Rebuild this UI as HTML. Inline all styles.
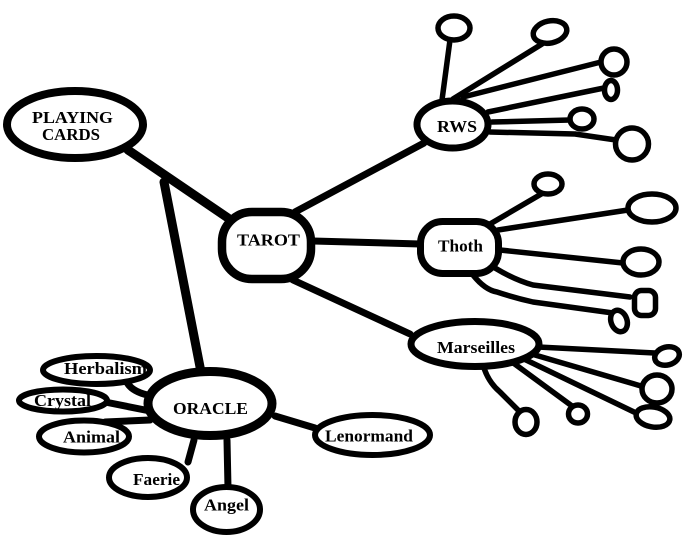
<!DOCTYPE html>
<html>
<head>
<meta charset="utf-8">
<style>
html,body{margin:0;padding:0;background:#fff;}
svg{display:block;}
text{font-family:"Liberation Serif",serif;font-weight:bold;font-size:17px;fill:#000;text-anchor:middle;}
</style>
</head>
<body>
<svg width="691" height="536" viewBox="0 0 691 536" xmlns="http://www.w3.org/2000/svg">
<g fill="none" stroke="#000" stroke-linecap="round" stroke-linejoin="round">
  <!-- main connectors -->
  <line x1="128" y1="150" x2="228" y2="218" stroke-width="9"/>
  <line x1="164" y1="182" x2="201" y2="372" stroke-width="9"/>
  <line x1="295" y1="212" x2="424" y2="143" stroke-width="7"/>
  <line x1="313" y1="241" x2="420" y2="244" stroke-width="7"/>
  <line x1="293" y1="280" x2="410" y2="334" stroke-width="7"/>

  <!-- oracle connectors -->
  <path d="M126 380 Q130 392 152 396" stroke-width="7"/>
  <line x1="100" y1="401" x2="150" y2="411" stroke-width="7"/>
  <line x1="105" y1="422" x2="150" y2="420" stroke-width="7"/>
  <line x1="194" y1="440" x2="188" y2="462" stroke-width="7"/>
  <line x1="227" y1="440" x2="228" y2="488" stroke-width="7"/>
  <line x1="275" y1="416" x2="315" y2="428" stroke-width="7"/>

  <!-- RWS spokes -->
  <g stroke-width="5.5">
    <line x1="442" y1="100" x2="450" y2="40"/>
    <line x1="453" y1="99" x2="542" y2="44"/>
    <line x1="463" y1="97" x2="601" y2="62"/>
    <line x1="488" y1="112" x2="604" y2="88"/>
    <line x1="492" y1="122" x2="570" y2="120"/>
    <polyline points="490,132 575,134 616,140"/>
  </g>
  <!-- Thoth spokes -->
  <g stroke-width="5.5">
    <line x1="490" y1="224" x2="543" y2="193"/>
    <line x1="498" y1="230" x2="628" y2="210"/>
    <line x1="500" y1="250" x2="623" y2="263"/>
    <path d="M495 268 Q515 280 533 285 L630 297"/>
    <path d="M473 275 Q485 290 497 292 Q515 298 533 302 L613 313"/>
  </g>
  <!-- Marseilles spokes -->
  <g stroke-width="5.5">
    <line x1="538" y1="347" x2="655" y2="353"/>
    <line x1="535" y1="355" x2="641" y2="386"/>
    <line x1="524" y1="359" x2="634" y2="412"/>
    <line x1="512" y1="362" x2="572" y2="406"/>
    <path d="M483 365 Q488 382 500 392 L520 412"/>
  </g>

  <!-- satellite loops -->
  <g stroke-width="5.5" fill="#fff">
    <ellipse cx="454" cy="28" rx="16" ry="12"/>
    <ellipse cx="550" cy="32" rx="17" ry="11" transform="rotate(-12 550 32)"/>
    <ellipse cx="614" cy="62" rx="13" ry="13"/>
    <ellipse cx="611" cy="90" rx="6.5" ry="9.5"/>
    <ellipse cx="582" cy="119" rx="12" ry="10"/>
    <ellipse cx="632" cy="144" rx="16.5" ry="16"/>

    <ellipse cx="548" cy="184" rx="14" ry="10"/>
    <ellipse cx="652" cy="208" rx="24" ry="14"/>
    <ellipse cx="641" cy="262" rx="18" ry="13"/>
    <rect x="634.5" y="290.5" width="21" height="25" rx="7"/>
    <ellipse cx="619" cy="321" rx="8" ry="11" transform="rotate(-20 619 321)"/>

    <ellipse cx="667" cy="356" rx="12.5" ry="9" transform="rotate(-15 667 356)"/>
    <ellipse cx="657" cy="389" rx="15" ry="14"/>
    <ellipse cx="653" cy="417" rx="17" ry="10" transform="rotate(10 653 417)"/>
    <ellipse cx="578" cy="414" rx="9.5" ry="9"/>
    <ellipse cx="526" cy="422" rx="11" ry="12.5"/>
  </g>

  <!-- main nodes -->
  <ellipse cx="75" cy="124.5" rx="68" ry="33.5" stroke-width="8" fill="#fff"/>
  <rect x="222" y="212" width="89" height="67" rx="30" stroke-width="8.5" fill="#fff"/>
  <ellipse cx="210" cy="403.5" rx="62" ry="32" stroke-width="9" fill="#fff"/>
  <ellipse cx="452.5" cy="124.5" rx="35.5" ry="23.5" stroke-width="7" fill="#fff"/>
  <rect x="420.5" y="221.5" width="78" height="52" rx="22" stroke-width="7" fill="#fff"/>
  <ellipse cx="475" cy="344" rx="64" ry="22.5" stroke-width="7" fill="#fff"/>

  <!-- oracle leaves -->
  <g stroke-width="6" fill="#fff">
    <ellipse cx="96.5" cy="370" rx="53.5" ry="14"/>
    <ellipse cx="63" cy="400.5" rx="44" ry="11"/>
    <ellipse cx="84" cy="436.5" rx="45" ry="16"/>
    <ellipse cx="148" cy="477.5" rx="39" ry="19.5"/>
    <ellipse cx="226.5" cy="509.5" rx="33.5" ry="22.5"/>
    <ellipse cx="372.5" cy="435" rx="57.5" ry="20"/>
  </g>
</g>

<text x="72.5" y="123" textLength="81" lengthAdjust="spacingAndGlyphs">PLAYING</text>
<text x="71" y="140" textLength="58" lengthAdjust="spacingAndGlyphs">CARDS</text>
<text x="268.5" y="245.5" textLength="63" lengthAdjust="spacingAndGlyphs">TAROT</text>
<text x="210.5" y="414" textLength="75" lengthAdjust="spacingAndGlyphs">ORACLE</text>
<text x="457" y="132" textLength="40" lengthAdjust="spacingAndGlyphs">RWS</text>
<text x="460.5" y="251.5" textLength="45" lengthAdjust="spacingAndGlyphs">Thoth</text>
<text x="476" y="353" textLength="78" lengthAdjust="spacingAndGlyphs">Marseilles</text>
<text x="105.5" y="374" textLength="83" lengthAdjust="spacingAndGlyphs">Herbalism</text>
<text x="62.5" y="406" textLength="57" lengthAdjust="spacingAndGlyphs">Crystal</text>
<text x="91.5" y="442.5" textLength="57" lengthAdjust="spacingAndGlyphs">Animal</text>
<text x="156.5" y="485" textLength="47" lengthAdjust="spacingAndGlyphs">Faerie</text>
<text x="226.5" y="510.5" textLength="45" lengthAdjust="spacingAndGlyphs">Angel</text>
<text x="369" y="441.5" textLength="88" lengthAdjust="spacingAndGlyphs">Lenormand</text>
</svg>
</body>
</html>
